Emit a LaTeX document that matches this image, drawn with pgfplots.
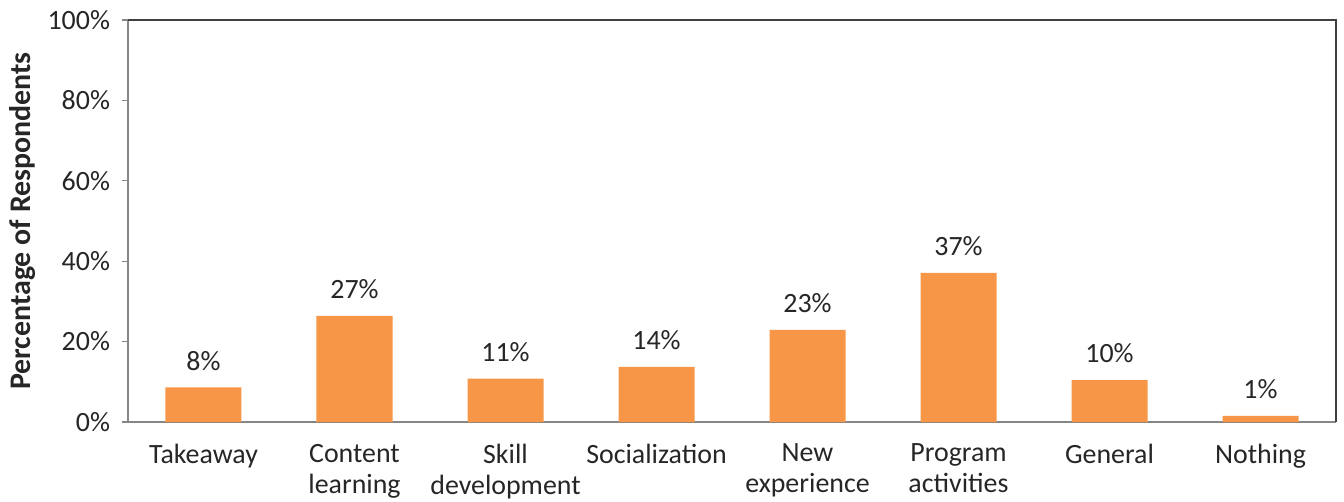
\documentclass[border=0pt]{standalone}
\usepackage{pgfplots}
\pgfplotsset{compat=1.18}
\usepackage{pgfplotstable}
\usepackage{fontspec}
\setmainfont{Carlito}
\definecolor{barorange}{HTML}{F79646}
\definecolor{axgray}{HTML}{868686}
\definecolor{txt}{HTML}{262626}
\pgfplotstableread{
x y lab
0 8.6 8
1 26.4 27
2 10.8 11
3 13.7 14
4 22.9 23
5 37.1 37
6 10.4 10
7 1.5 1
}\datatable
\begin{document}
\begin{tikzpicture}
\begin{axis}[
  scale only axis,
  width=604bp, height=201bp,
  xmin=-0.5, xmax=7.5,
  ymin=0, ymax=100,
  axis x line*=bottom, axis y line*=left,
  axis line style={axgray, line width=0.6bp},
  ytick={0,20,40,60,80,100},
  yticklabels={0\%,20\%,40\%,60\%,80\%,100\%},
  tick align=outside,
  ytick style={axgray, line width=0.6bp},
  major tick length=3bp,
  xtick={0,...,7},
  xtick style={draw=none},
  xticklabels={Takeaway,Content\\learning,Skill\\development,Socialization,New\\experience,Program\\activities,General,Nothing},
  xticklabel style={align=center, font=\fontsize{14}{15.5}\selectfont, text=txt, anchor=north, yshift=-4.5bp},
  yticklabel style={font=\fontsize{14}{15.5}\selectfont, text=txt, xshift=-2.5bp},
  extra x ticks={-0.5,0.5,1.5,2.5,3.5,4.5,5.5,6.5,7.5},
  extra x tick labels={},
  extra x tick style={xtick style={axgray, line width=0.6bp}, major tick length=4bp},
  ylabel={\bfseries Percentage of Respondents},
  ylabel style={font=\fontsize{15}{16}\selectfont, text=txt, yshift=-1bp},
  /pgf/number format/assume math mode=true,
  nodes near coords={\pgfmathprintnumber{\pgfplotspointmeta}\%},
  nodes near coords style={font=\fontsize{14}{15.5}\selectfont, text=txt, anchor=south, yshift=5bp},
  point meta=explicit,
  clip=false,
]
\addplot[ybar, bar width=38bp, fill=barorange, draw=none] table[x=x, y=y, meta=lab] {\datatable};
\draw[black!75, line width=0.6bp] (rel axis cs:0,1) -- (rel axis cs:1,1) -- (rel axis cs:1,0);
\end{axis}
\pgfresetboundingbox
\useasboundingbox (-64bp,-40bp) rectangle (608bp,211bp);
\end{tikzpicture}
\end{document}
